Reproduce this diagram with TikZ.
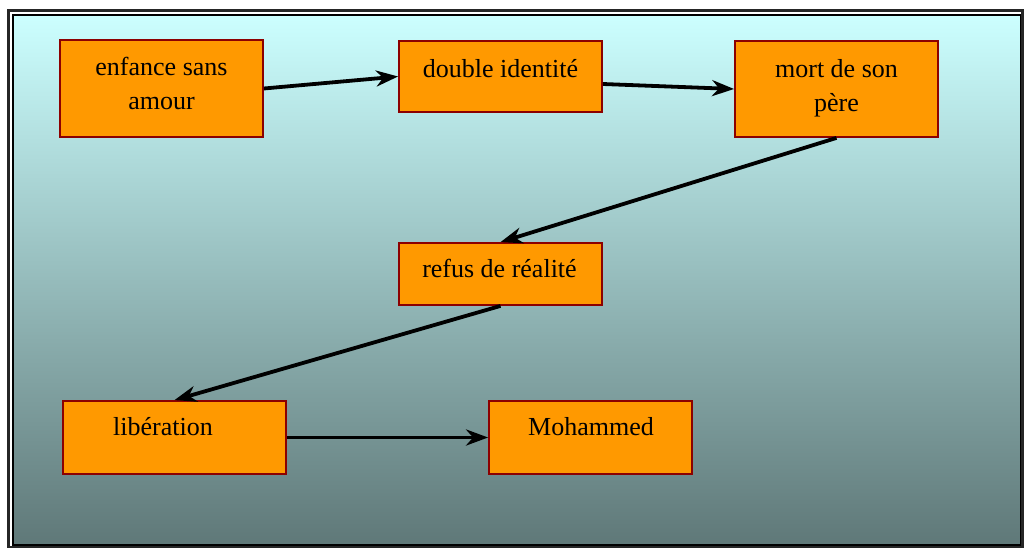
\documentclass[tikz,border=0pt]{standalone}
\usepackage{fontspec}
\setmainfont{Liberation Serif}
\usetikzlibrary{arrows.meta}
\definecolor{bgtop}{RGB}{204,255,255}
\definecolor{bgbot}{RGB}{95,120,120}
\definecolor{boxfill}{RGB}{255,153,0}
\definecolor{boxline}{RGB}{140,0,0}
\tikzset{
  stepbox/.style={draw=boxline, fill=boxfill, line width=1.8pt, inner sep=0pt, minimum width=#1},
  lbl/.style={anchor=base, inner sep=0pt, font=\fontsize{26}{30}\selectfont},
  conn/.style={line width=3.8pt, -{Stealth[length=22pt,width=16pt,inset=7pt]}}
}
\begin{document}
\begin{tikzpicture}[x=1pt,y=-1pt]
\useasboundingbox (0,0) rectangle (1025,549);
% frame
\draw[line width=2.2pt, draw=black!85] (8.5,10.5) rectangle (1022.5,547);
\shade[top color=bgtop, bottom color=bgbot] (13,15) rectangle (1020.5,545);
\draw[line width=1.8pt] (13,15) rectangle (1020.5,545);
% boxes
\node[stepbox=203pt, minimum height=97pt] (b1) at (161.5,88.5) {};
\node[stepbox=203pt, minimum height=71pt] (b2) at (500.5,76.5) {};
\node[stepbox=203pt, minimum height=96pt] (b3) at (836.5,89) {};
\node[stepbox=203pt, minimum height=62pt] (b4) at (500.5,274) {};
\node[stepbox=223pt, minimum height=73pt] (b5) at (174.5,437.5) {};
\node[stepbox=203pt, minimum height=73pt] (b6) at (590.5,437.5) {};
% labels
\node[lbl] (t1a) at (161.5,75) {enfance sans};
\node[lbl] (t1b) at (161.5,109) {amour};
\node[lbl] (t2) at (500.5,77) {double identité};
\node[lbl] (t3a) at (836.5,77) {mort de son};
\node[lbl] (t3b) at (836.5,111) {père};
\node[lbl] (t4) at (499.5,277) {refus de réalité};
\node[lbl] (t5) at (163,435) {libération};
\node[lbl] (t6) at (591,435) {Mohammed};
% connectors
\draw[conn] (b1.east) -- (b2.west);
\draw[conn] ([yshift=-7.5pt]b2.east) -- (b3.west);
\draw[conn] (b3.south) -- (b4.north);
\draw[conn] (b4.south) -- (b5.north);
\draw[conn] (b5.east) -- (b6.west);
\end{tikzpicture}
\end{document}
